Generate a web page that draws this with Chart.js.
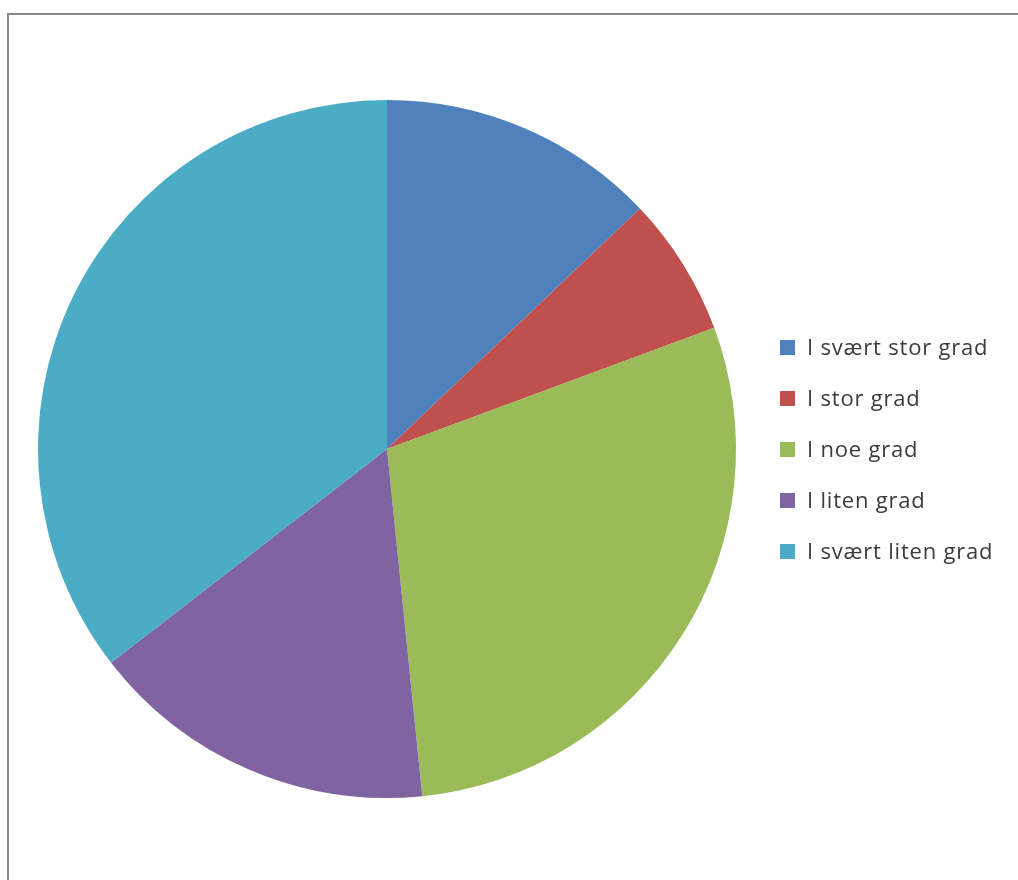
<!DOCTYPE html>
<html>
<head>
<meta charset="utf-8">
<script src="https://cdn.jsdelivr.net/npm/chart.js@4/dist/chart.umd.min.js"></script>
<style>
  html, body { margin: 0; padding: 0; background: #fff; overflow: hidden; }
  #wrap { position: relative; width: 1018px; height: 880px; }
  #frame { position: absolute; left: 7px; top: 13px; width: 1030px; height: 900px;
           border-left: 2px solid #8a8a8a; border-top: 2px solid #8a8a8a; box-sizing: border-box; }
  #myChart { position: absolute; left: 0; top: 0; }
  #legend { position: absolute; left: 780px; top: 333px; font-family: "Open Sans", sans-serif;
            font-size: 22px; line-height: 26px; letter-spacing: 0.8px; color: #3c3c3c; }
  .item { height: 51px; display: flex; align-items: flex-start; white-space: nowrap; }
  .box { width: 15px; height: 15px; margin-top: 7px; margin-right: 12px; flex: none; }
</style>
</head>
<body>
<div id="wrap">
  <div id="frame"></div>
  <canvas id="myChart" width="1018" height="880"></canvas>
  <div id="legend"></div>
</div>
<script>
'use strict';

const labels = ["I svært stor grad", "I stor grad", "I noe grad", "I liten grad", "I svært liten grad"];
const values = [4, 2, 9, 5, 11];
const colors = ["#4F81BD", "#C0504D", "#9BBB59", "#8064A2", "#4BACC6"];

// legend
const legendEl = document.getElementById("legend");
for (let i = 0; i < labels.length; i++) {
    let row = document.createElement("div");
    row.className = "item";
    let box = document.createElement("span");
    box.className = "box";
    box.style.background = colors[i];
    let txt = document.createElement("span");
    txt.textContent = labels[i];
    row.appendChild(box);
    row.appendChild(txt);
    legendEl.appendChild(row);
}

const data = {
    labels: labels,
    datasets: [{
        data: values,
        backgroundColor: colors,
        borderWidth: 0
    }]
};

const config = {
    type: 'pie',
    data: data,
    options: {
        responsive: false,
        animation: false,
        layout: { padding: { left: 38, right: 282, top: 100, bottom: 82 } },
        plugins: {
            legend: { display: false },
            tooltip: { enabled: false }
        }
    }
};

const myChart = new Chart(document.getElementById('myChart'), config);
</script>
</body>
</html>
